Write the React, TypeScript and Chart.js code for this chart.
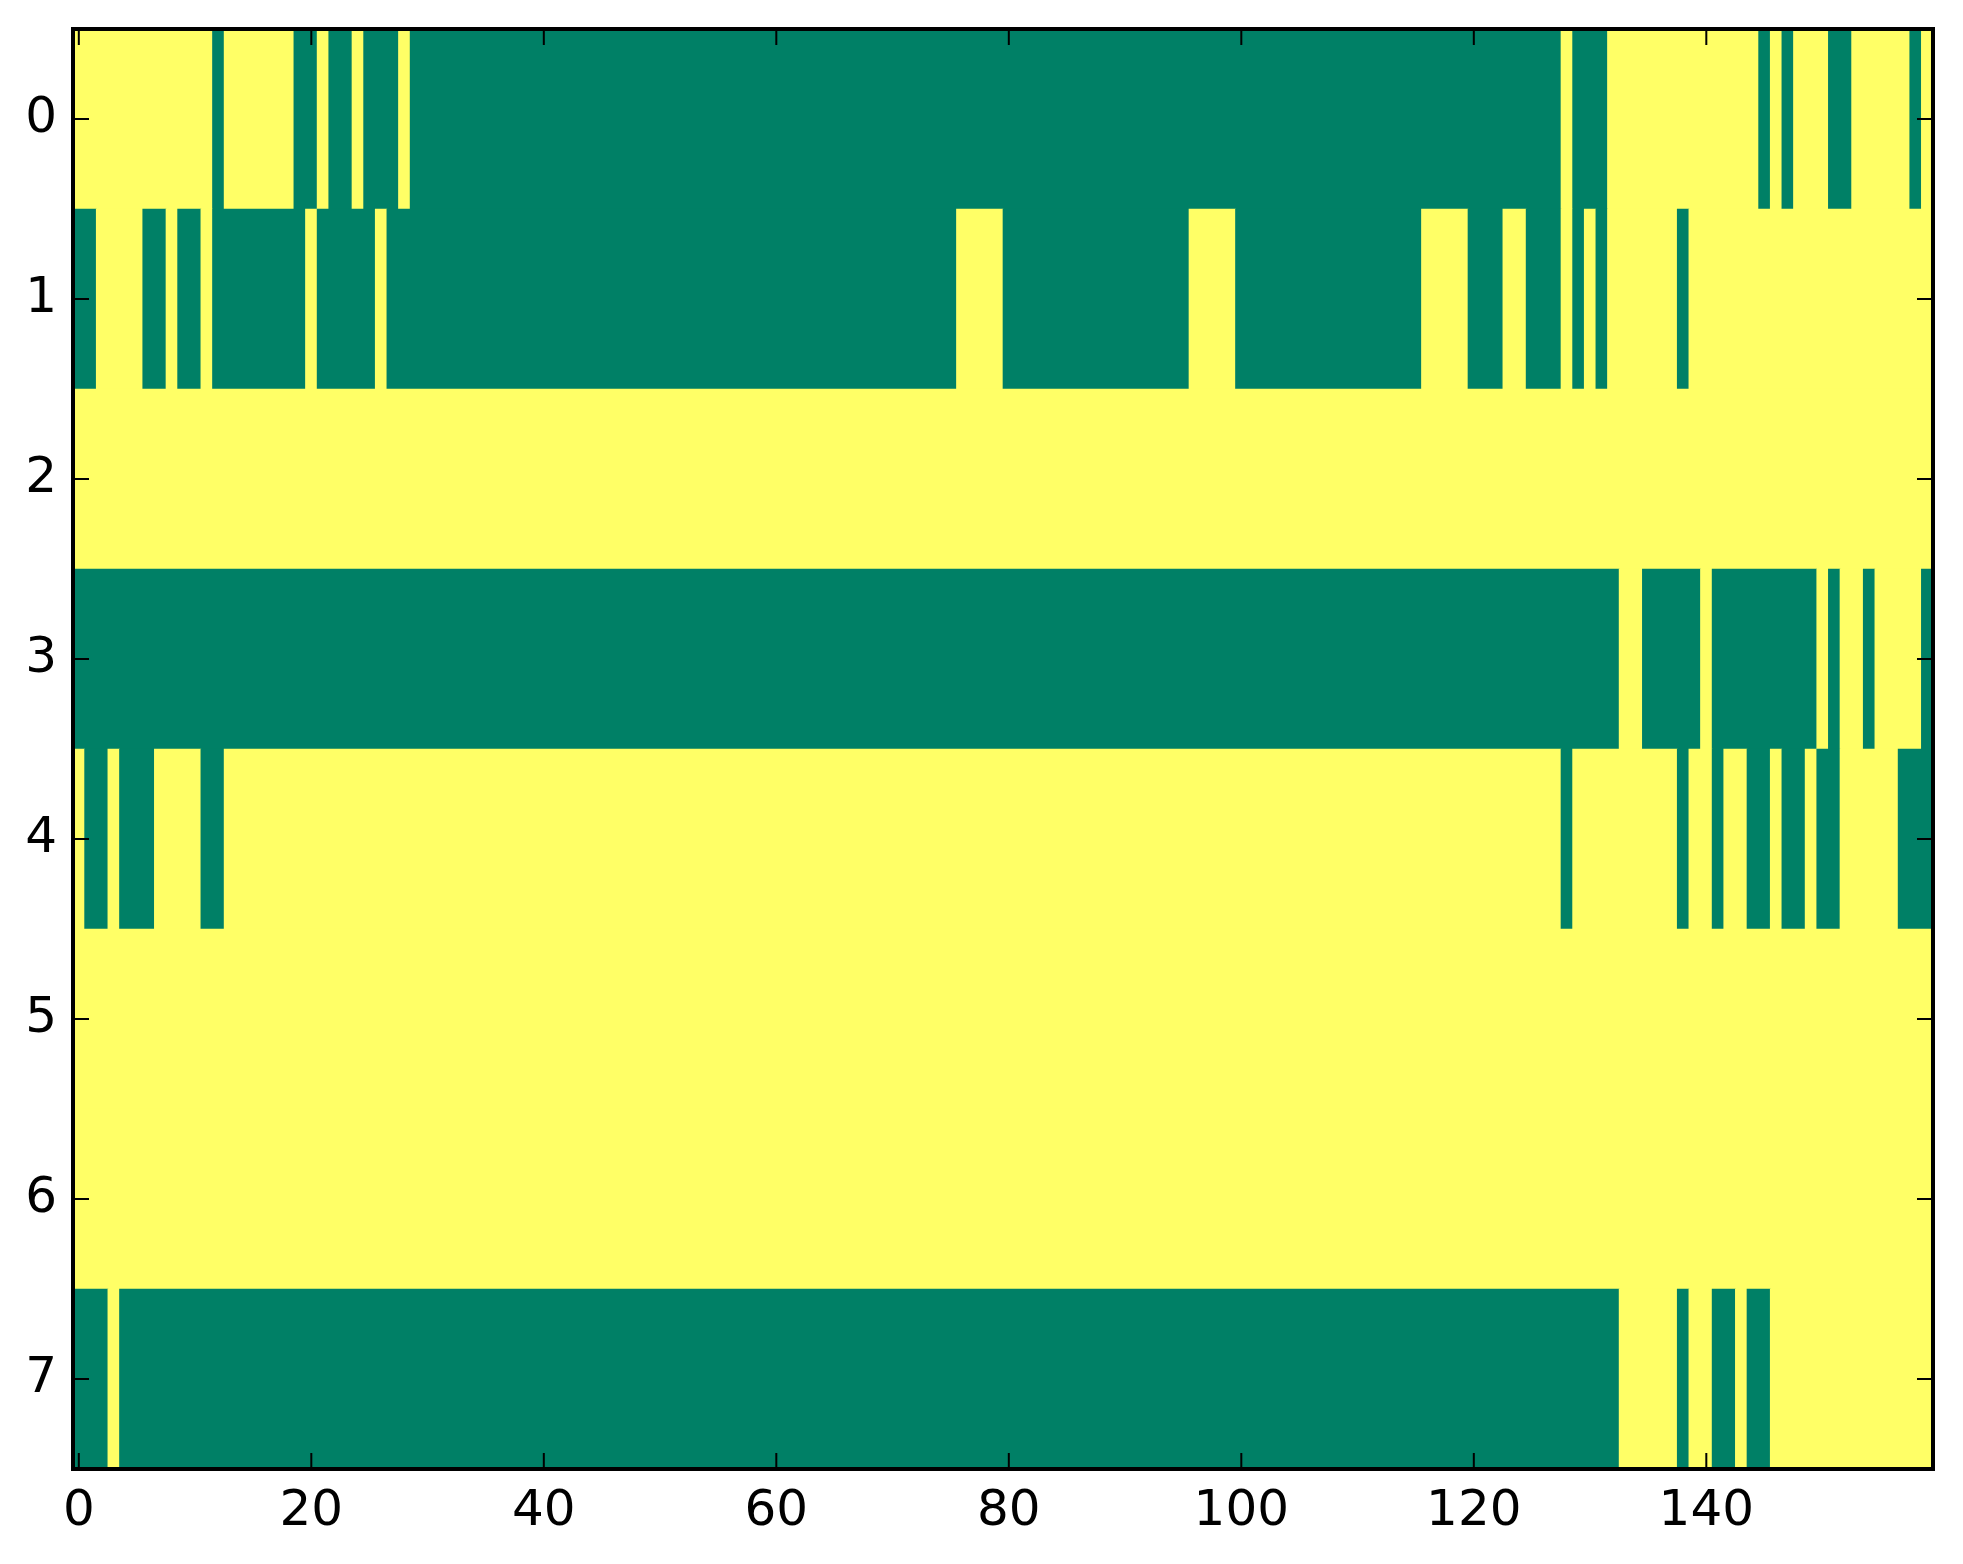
import { useEffect, useRef } from "react"
import { Chart, registerables, type ChartConfiguration, type Plugin } from "chart.js"

Chart.register(...registerables)

const rowLabels = ["0", "1", "2", "3", "4", "5", "6", "7"]
const columnCount = 160
const xTickValues = [0, 20, 40, 60, 80, 100, 120, 140]

// runs of low-value (green) cells in each row, [first column, last column]
const row0Green = [[12, 12], [19, 20], [22, 23], [25, 27], [29, 127], [129, 131], [145, 145], [147, 147], [151, 152], [158, 158]]
const row1Green = [[0, 1], [6, 7], [9, 10], [12, 19], [21, 25], [27, 75], [80, 95], [100, 115], [120, 122], [125, 127], [129, 129], [131, 131], [138, 138]]
const row2Green: number[][] = []
const row3Green = [[0, 132], [135, 139], [141, 149], [151, 151], [154, 154], [159, 159]]
const row4Green = [[1, 2], [4, 6], [11, 12], [128, 128], [138, 138], [141, 141], [144, 145], [147, 148], [150, 151], [157, 159]]
const row5Green: number[][] = []
const row6Green: number[][] = []
const row7Green = [[0, 2], [4, 132], [138, 138], [141, 142], [144, 145]]

const greenRuns = [row0Green, row1Green, row2Green, row3Green, row4Green, row5Green, row6Green, row7Green]

const GREEN = "#008066"
const YELLOW = "#ffff66"
const FONT = { family: "'DejaVu Sans'", size: 50 }

// frame + inward ticks on all four sides, like the old matplotlib style
const framePlugin: Plugin = {
  id: "frame",
  afterDraw(chart) {
    const { ctx, chartArea: a, scales } = chart
    ctx.save()
    ctx.strokeStyle = "#000"
    ctx.lineWidth = 2
    ctx.beginPath()
    for (const v of xTickValues) {
      const px = scales.x.getPixelForValue(v)
      ctx.moveTo(px, a.bottom)
      ctx.lineTo(px, a.bottom - 16)
      ctx.moveTo(px, a.top)
      ctx.lineTo(px, a.top + 16)
    }
    rowLabels.forEach((_, i) => {
      const py = scales.y.getPixelForValue(i)
      ctx.moveTo(a.left, py)
      ctx.lineTo(a.left + 16, py)
      ctx.moveTo(a.right, py)
      ctx.lineTo(a.right - 16, py)
    })
    ctx.stroke()
    ctx.lineWidth = 4
    ctx.strokeRect(a.left, a.top, a.right - a.left, a.bottom - a.top)
    ctx.restore()
  },
}

function buildCells() {
  const bars: { x: [number, number]; y: string }[] = []
  const colors: string[] = []
  greenRuns.forEach((runs, r) => {
    const values = new Array(columnCount).fill(1)
    runs.forEach(([s, e]) => {
      for (let c = s; c <= e; c++) values[c] = 0
    })
    let start = 0
    for (let c = 1; c <= columnCount; c++) {
      if (c === columnCount || values[c] !== values[start]) {
        bars.push({ x: [start - 0.5, c - 0.5], y: rowLabels[r] })
        colors.push(values[start] === 0 ? GREEN : YELLOW)
        start = c
      }
    }
  })
  return { bars, colors }
}

function HeatStrip() {
  const chartRef = useRef<HTMLCanvasElement>(null)
  const chartInstance = useRef<Chart | null>(null)

  useEffect(() => {
    if (!chartRef.current) return
    const ctx = chartRef.current.getContext("2d")
    if (!ctx) return

    if (chartInstance.current) {
      chartInstance.current.destroy()
    }

    const { bars, colors } = buildCells()

    const config: ChartConfiguration = {
      type: "bar",
      data: {
        labels: rowLabels,
        datasets: [
          {
            data: bars as any,
            backgroundColor: colors,
            borderWidth: 0,
            categoryPercentage: 1,
            barPercentage: 1,
            grouped: false,
          },
        ],
      },
      options: {
        indexAxis: "y",
        responsive: false,
        animation: false,
        devicePixelRatio: 1,
        events: [],
        layout: { padding: { top: 29, right: 30, left: 0, bottom: 0 } },
        plugins: {
          legend: { display: false },
          tooltip: { enabled: false },
        },
        scales: {
          x: {
            type: "linear",
            min: -0.5,
            max: columnCount - 0.5,
            grid: { display: false, drawTicks: false },
            border: { display: false },
            ticks: { font: FONT, color: "#000", padding: 13 },
            afterBuildTicks: (scale) => {
              scale.ticks = xTickValues.map((v) => ({ value: v }))
            },
            afterFit: (scale: any) => {
              scale.height = 95
              scale.paddingLeft = 0
              scale.paddingRight = 0
            },
          },
          y: {
            type: "category",
            labels: rowLabels,
            grid: { display: false, drawTicks: false },
            border: { display: false },
            ticks: { font: FONT, color: "#000", padding: 16 },
            afterFit: (scale: any) => {
              scale.width = 73
              scale.paddingTop = 0
              scale.paddingBottom = 0
            },
          },
        },
      },
      plugins: [framePlugin],
    }

    chartInstance.current = new Chart(ctx, config)

    return () => {
      if (chartInstance.current) {
        chartInstance.current.destroy()
        chartInstance.current = null
      }
    }
  }, [])

  return <canvas ref={chartRef} width={1963} height={1564} />
}

export default function App() {
  return (
    <div style={{ position: "fixed", left: 0, top: 0, width: 1963, height: 1564, background: "#fff" }}>
      <HeatStrip />
    </div>
  )
}
